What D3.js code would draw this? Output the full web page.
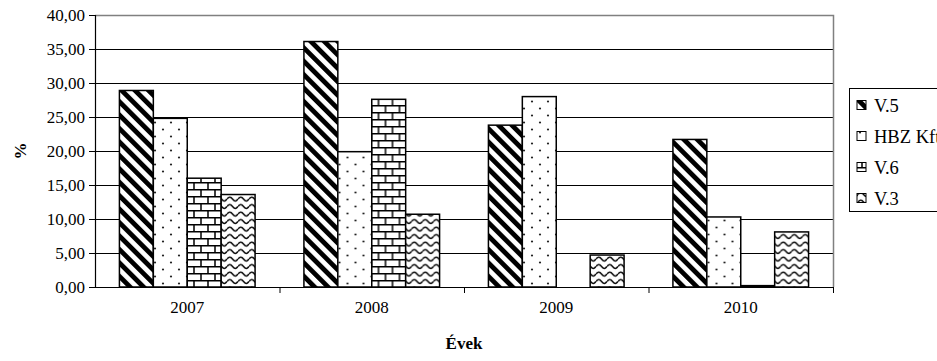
<!DOCTYPE html>
<html>
<head>
<meta charset="utf-8">
<script src="https://cdn.jsdelivr.net/npm/d3@7"></script>
<style>
  html, body { margin: 0; padding: 0; background: #fff; }
  svg text { font-family: "Liberation Serif", "Times New Roman", Times, "DejaVu Serif", serif !important; fill: #000; }
</style>
</head>
<body>
<svg id="chart" width="937" height="361"></svg>
<script>
// Yearly shares (%) per unit
const years = ["2007", "2008", "2009", "2010"];
const seriesNames = ["V.5", "HBZ Kft", "V.6", "V.3"];
const v5 = [28.9, 36.1, 23.8, 21.7];
const hbz = [24.8, 19.9, 28.0, 10.3];
const v6 = [16.0, 27.6, 0.0, 0.2];
const v3 = [13.6, 10.7, 4.7, 8.1];
const yTicks = [0, 5, 10, 15, 20, 25, 30, 35, 40];

const seriesValues = [v5, hbz, v6, v3];
const patternIds = ["pat-diag", "pat-dots", "pat-brick", "pat-wave"];

const svg = d3.select("#chart");
const margin = { left: 95, right: 104, top: 15, bottom: 74 };
const W = 937, H = 361;
const plotRight = W - margin.right;
const plotBottom = H - margin.bottom;
const FS = 17;

// ---- fill patterns ----
const defs = svg.append("defs");

const diag = defs.append("pattern").attr("id", "pat-diag")
  .attr("patternUnits", "userSpaceOnUse").attr("width", 9.5).attr("height", 9.5)
  .attr("patternTransform", "rotate(-45)");
diag.append("rect").attr("width", 9.5).attr("height", 9.5).attr("fill", "#fff");
diag.append("rect").attr("x", 0).attr("width", 4.8).attr("height", 9.5).attr("fill", "#000");

const dots = defs.append("pattern").attr("id", "pat-dots")
  .attr("patternUnits", "userSpaceOnUse").attr("width", 16).attr("height", 14);
dots.append("rect").attr("width", 16).attr("height", 14).attr("fill", "#fff");
dots.append("circle").attr("cx", 4).attr("cy", 3.5).attr("r", 1.1).attr("fill", "#222");
dots.append("circle").attr("cx", 12).attr("cy", 10.5).attr("r", 1.1).attr("fill", "#222");

const brick = defs.append("pattern").attr("id", "pat-brick")
  .attr("patternUnits", "userSpaceOnUse").attr("width", 14).attr("height", 14);
brick.append("rect").attr("width", 14).attr("height", 14).attr("fill", "#fff");
brick.append("path")
  .attr("d", "M0,0.75H14M0,7.75H14M1,0.75V7.75M8,7.75V14")
  .attr("stroke", "#000").attr("stroke-width", 1.5).attr("fill", "none");

const wave = defs.append("pattern").attr("id", "pat-wave")
  .attr("patternUnits", "userSpaceOnUse").attr("width", 11).attr("height", 7.5);
wave.append("rect").attr("width", 11).attr("height", 7.5).attr("fill", "#fff");
wave.append("path")
  .attr("d", "M0,4 Q2.75,0 5.5,4 Q8.25,8 11,4")
  .attr("stroke", "#000").attr("stroke-width", 1.4).attr("fill", "none");

// ---- scales ----
const x0 = d3.scaleBand().domain(years).range([margin.left, plotRight]).paddingInner(0).paddingOuter(0);
const x1 = d3.scaleBand().domain(seriesNames).range([0, x0.bandwidth()]).paddingInner(0).paddingOuter(0.72);
const y = d3.scaleLinear().domain([0, 40]).range([plotBottom, margin.top]);

// ---- gridlines ----
svg.append("g").selectAll("line").data(yTicks.filter(t => t > 0 && t < 40)).join("line")
  .attr("x1", margin.left).attr("x2", plotRight)
  .attr("y1", d => Math.round(y(d)) + 0.5).attr("y2", d => Math.round(y(d)) + 0.5)
  .attr("stroke", "#000").attr("stroke-width", 1);

// plot frame (top and right edges)
svg.append("path")
  .attr("d", `M${margin.left},${margin.top + 0.5}H${plotRight + 0.5}V${plotBottom}`)
  .attr("stroke", "#808080").attr("stroke-width", 1.5).attr("fill", "none");

// ---- bars ----
const groups = svg.append("g").selectAll("g").data(years).join("g")
  .attr("transform", d => `translate(${x0(d)},0)`);
groups.selectAll("rect")
  .data((yr, i) => seriesNames.map((s, k) => ({ s, k, v: seriesValues[k][i] })).filter(d => d.v > 0))
  .join("rect")
  .attr("x", d => x1(d.s))
  .attr("width", x1.bandwidth())
  .attr("y", d => y(d.v))
  .attr("height", d => plotBottom - y(d.v))
  .attr("fill", d => `url(#${patternIds[d.k]})`)
  .attr("stroke", "#000").attr("stroke-width", 1.5);

// ---- axes ----
const yAxis = d3.axisLeft(y).tickValues(yTicks).tickSize(6).tickPadding(4)
  .tickFormat(d => d3.format(".2f")(d).replace(".", ","));
const gy = svg.append("g").attr("transform", `translate(${margin.left},0)`).call(yAxis);
gy.attr("font-family", null).attr("font-size", FS);
gy.select(".domain").attr("stroke", "#000").attr("stroke-width", 1.2);
gy.selectAll(".tick line").attr("stroke", "#000");

const xAxis = d3.axisBottom(x0).tickSize(0).tickPadding(14);
const gx = svg.append("g").attr("transform", `translate(0,${plotBottom})`).call(xAxis);
gx.attr("font-family", null).attr("font-size", FS);
gx.select(".domain").remove();
svg.append("line").attr("x1", margin.left - 6).attr("x2", plotRight + 0.5)
  .attr("y1", plotBottom + 0.5).attr("y2", plotBottom + 0.5)
  .attr("stroke", "#000").attr("stroke-width", 1.2);
// category boundary ticks
svg.append("g").selectAll("line").data(years.slice(1).concat(["end"])).join("line")
  .attr("x1", d => d === "end" ? plotRight + 0.5 : x0(d) + 0.5)
  .attr("x2", d => d === "end" ? plotRight + 0.5 : x0(d) + 0.5)
  .attr("y1", plotBottom).attr("y2", plotBottom + 6)
  .attr("stroke", "#000").attr("stroke-width", 1);

// ---- axis titles ----
svg.append("text").attr("x", (margin.left + plotRight) / 2).attr("y", 349)
  .attr("text-anchor", "middle").attr("font-size", FS).attr("font-weight", "bold")
  .text("Évek");
svg.append("text")
  .attr("transform", `translate(26,${(margin.top + plotBottom) / 2}) rotate(-90)`)
  .attr("text-anchor", "middle").attr("font-size", FS).attr("font-weight", "bold")
  .text("%");

// ---- legend ----
const legend = svg.append("g");
legend.append("rect").attr("x", 849.5).attr("y", 88.5).attr("width", 120).attr("height", 123)
  .attr("fill", "#fff").attr("stroke", "#000").attr("stroke-width", 1);
const items = legend.selectAll("g.item").data(seriesNames).join("g").attr("class", "item")
  .attr("transform", (d, i) => `translate(0,${105 + i * 31})`);
items.append("rect").attr("x", 857).attr("y", -4.5).attr("width", 9).attr("height", 9)
  .attr("fill", (d, i) => `url(#${patternIds[i]})`).attr("stroke", "#000").attr("stroke-width", 1);
items.append("text").attr("x", 874).attr("y", 6.5).attr("font-size", 18.5).text(d => d);
</script>
</body>
</html>
